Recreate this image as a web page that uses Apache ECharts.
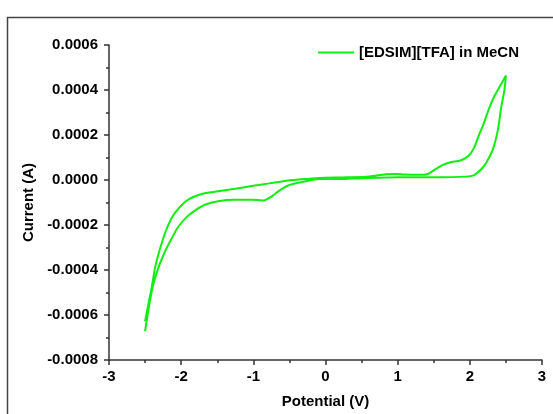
<!DOCTYPE html>
<html>
<head>
<meta charset="utf-8">
<script src="https://cdn.jsdelivr.net/npm/echarts@6/dist/echarts.min.js"></script>
<style>
  html, body { margin: 0; padding: 0; background: #fff; }
  #chart { width: 553px; height: 414px; }
</style>
</head>
<body>
<div id="chart"></div>
<script>
// positive-going scan, -2.5 V -> 2.5 V (current in A)
const fwdPotential = [-2.50, -2.457, -2.41, -2.364, -2.319, -2.249, -2.18, -2.111, -2.018, -1.903, -1.717, -1.488, -1.256, -1.025, -0.78, -0.54, -0.22, -0.08, 0.30, 0.61, 0.84, 0.96, 1.10, 1.30, 1.42, 1.49, 1.62, 1.72, 1.88, 1.99, 2.06, 2.13, 2.18, 2.27, 2.34, 2.43, 2.50];
const fwdCurrent = [-628e-6, -556e-6, -481e-6, -393e-6, -334e-6, -260e-6, -201e-6, -158e-6, -120e-6, -87e-6, -62e-6, -50e-6, -39e-6, -27e-6, -15e-6, -3e-6, 6e-6, 9e-6, 12e-6, 16e-6, 26e-6, 27e-6, 24e-6, 23e-6, 27e-6, 41e-6, 66e-6, 78e-6, 88e-6, 110e-6, 144e-6, 203e-6, 240e-6, 321e-6, 372e-6, 424e-6, 464e-6];

// negative-going scan, 2.5 V -> -2.5 V
const revPotential = [2.50, 2.48, 2.43, 2.39, 2.32, 2.23, 2.16, 2.06, 1.95, 1.50, 1.02, 0.50, 0.19, -0.08, -0.31, -0.50, -0.64, -0.74, -0.86, -0.94, -1.025, -1.256, -1.488, -1.672, -1.81, -1.925, -2.042, -2.133, -2.226, -2.319, -2.388, -2.434, -2.50];
const revCurrent = [464e-6, 402e-6, 314e-6, 225e-6, 137e-6, 78e-6, 49e-6, 22e-6, 15e-6, 12e-6, 12e-6, 8e-6, 4e-6, 4e-6, -8e-6, -22e-6, -47e-6, -72e-6, -91e-6, -89e-6, -88e-6, -88e-6, -94e-6, -110e-6, -136e-6, -165e-6, -209e-6, -261e-6, -319e-6, -393e-6, -467e-6, -540e-6, -672e-6];

const seriesName = '[EDSIM][TFA] in MeCN';

const loop = fwdPotential.map((x, i) => [x, fwdCurrent[i]])
  .concat(revPotential.map((x, i) => [x, revCurrent[i]]));

const axisColor = '#333';
const lineColor = '#11ee11';
const labelFont = { color: '#000', fontWeight: 'bold', fontSize: 15, fontFamily: 'Liberation Sans, Arial' };

const chart = echarts.init(document.getElementById('chart'));
chart.setOption({
  animation: false,
  backgroundColor: '#fff',
  graphic: [{
    type: 'rect',
    silent: true,
    z: -1,
    shape: { x: 7.5, y: 17.5, width: 600, height: 500 },
    style: { fill: 'none', stroke: '#444', lineWidth: 1.5 }
  }],
  grid: { left: 109, right: 11, top: 45, bottom: 52 },
  legend: {
    left: 313,
    top: 40,
    icon: 'rect',
    itemWidth: 36,
    itemHeight: 2,
    itemStyle: { color: lineColor },
    textStyle: labelFont,
    data: [seriesName]
  },
  xAxis: {
    type: 'value',
    min: -3,
    max: 3,
    interval: 1,
    name: 'Potential (V)',
    nameLocation: 'middle',
    nameGap: 34,
    nameTextStyle: labelFont,
    axisLine: { onZero: false, lineStyle: { color: axisColor, width: 1.5 } },
    axisTick: { length: 5, lineStyle: { color: axisColor, width: 1.5 } },
    minorTick: { show: true, splitNumber: 2, length: 3, lineStyle: { color: axisColor, width: 1.5 } },
    splitLine: { show: false },
    axisLabel: Object.assign({ margin: 9 }, labelFont)
  },
  yAxis: {
    type: 'value',
    min: -0.0008,
    max: 0.0006,
    interval: 0.0002,
    name: 'Current (A)',
    nameLocation: 'middle',
    nameGap: 73,
    nameTextStyle: labelFont,
    axisLine: { show: true, onZero: false, lineStyle: { color: axisColor, width: 1.5 } },
    axisTick: { show: true, length: 5, lineStyle: { color: axisColor, width: 1.5 } },
    minorTick: { show: true, splitNumber: 2, length: 3, lineStyle: { color: axisColor, width: 1.5 } },
    splitLine: { show: false },
    axisLabel: Object.assign({
      margin: 11,
      formatter: v => Math.abs(v) < 1e-12 ? '0.0000' : v.toFixed(4)
    }, labelFont)
  },
  series: [{
    name: seriesName,
    type: 'line',
    data: loop,
    symbol: 'none',
    smooth: 0.3,
    lineStyle: { color: lineColor, width: 2 },
    itemStyle: { color: lineColor }
  }]
});
</script>
</body>
</html>
